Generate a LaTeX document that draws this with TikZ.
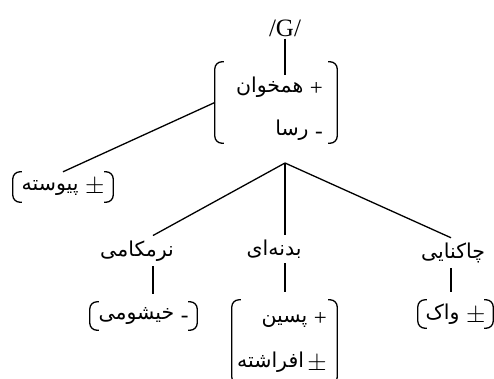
\documentclass[tikz,border=0pt]{standalone}
\usepackage{fontspec}
\setmainfont{Liberation Serif}
\newfontfamily\farsi[Script=Arabic]{DejaVu Sans}
\TeXXeTstate=1

\newcommand{\fa}[1]{{\farsi\beginR #1\endR}}
\newcommand{\sg}[1]{\raisebox{-3pt}{\rmfamily\fontsize{23}{23}\selectfont #1}}
% rounded feature brackets round a node
\newcommand{\featbrk}[1]{%
  \draw[brk] ([xshift=9pt]#1.north west) -- (#1.north west) -- (#1.south west) -- ([xshift=9pt]#1.south west);
  \draw[brk] ([xshift=-9pt]#1.north east) -- (#1.north east) -- (#1.south east) -- ([xshift=-9pt]#1.south east);
}

\tikzset{
  brk/.style={line width=1.3pt, rounded corners=7pt},
  link/.style={line width=1.3pt},
  feat/.style={inner sep=2pt, font=\fontsize{20.5}{24}\selectfont},
  lbl/.style={feat, inner ysep=5pt},
  box/.style={inner sep=0pt},
}

\begin{document}
\begin{tikzpicture}[x=1pt,y=-1pt]
\useasboundingbox (0,0) rectangle (494,379);

% top
\node[feat, font=\fontsize{25}{28}\selectfont] (g) at (285,28) {/G/};
\node[feat, anchor=east] (r1) at (325,87) {\fa{\sg{+} همخوان}};
\node[feat, anchor=east] (r2) at (325,130) {\fa{\sg{-} رسا}};
\node[box, minimum width=122pt, minimum height=81pt] (root) at (276,102.5) {};
\featbrk{root}
\node[feat, minimum width=100pt, minimum height=30pt] (cont) at (63,187) {\fa{\sg{$\pm$} پیوسته}};
\featbrk{cont}
\draw[link] (g.south) -- (g.south |- r1.north);
\draw[link] (root.west) -- (cont.north);

% place
\coordinate (place) at (285,163);
\node[lbl] (velar) at (137,251) {\fa{نرمکامی}};
\node[lbl] (dorsal) at (274,249) {\fa{بدنه^^^^200cای}};
\node[lbl] (glottal) at (453,253) {\fa{چاکنایی}};
\draw[link] (place) -- ([xshift=16pt]velar.north);
\draw[link] (place) -- ([xshift=11pt]dorsal.north);
\draw[link] (place) -- ([xshift=-2pt]glottal.north);

% features below
\node[feat, minimum width=107pt, minimum height=28pt] (nasal) at (143.5,316) {\fa{\sg{-} خیشومی}};
\featbrk{nasal}
\node[feat, anchor=east] (s1) at (329,320) {\fa{\sg{+} پسین}};
\node[feat, anchor=east] (s2) at (329,362) {\fa{\sg{$\pm$}\,افراشته}};
\node[box, minimum width=105pt, minimum height=84pt] (back) at (284.5,342) {};
\featbrk{back}
\node[feat, minimum width=75pt, minimum height=28pt] (voice) at (455.5,314) {\fa{\sg{$\pm$} واک}};
\featbrk{voice}
\draw[link, shorten >=8pt] ([xshift=16pt]velar.south) -- ([xshift=16pt]velar.south |- nasal.north);
\draw[link, shorten >=8pt] ([xshift=11pt]dorsal.south) -- ([xshift=11pt]dorsal.south |- back.north);
\draw[link, shorten >=8pt] ([xshift=-2pt]glottal.south) -- ([xshift=-2pt]glottal.south |- voice.north);
\end{tikzpicture}
\end{document}
